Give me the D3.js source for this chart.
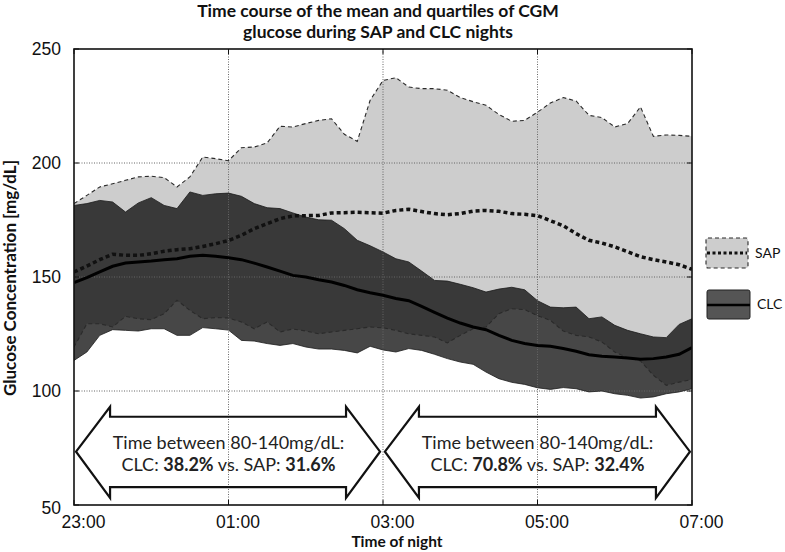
<!DOCTYPE html>
<html>
<head>
<meta charset="utf-8">
<script src="https://cdn.jsdelivr.net/npm/d3@7"></script>
<style>
body { margin: 0; background: #fff; }
svg { display: block; }
.tick-label { font-family: 'Liberation Sans Narrow', 'Liberation Sans', Arial, sans-serif; font-size: 17.5px; fill: #111; }
.title { font-family: Lato, 'Open Sans', sans-serif; font-weight: bold; font-size: 17.5px; fill: #111; }
.axis-title { font-family: Lato, 'Open Sans', sans-serif; font-weight: bold; font-size: 15.5px; fill: #111; }
.y-title { font-size: 17px; }
.note { font-family: Lato, 'Open Sans', sans-serif; font-size: 18px; fill: #222; }
.legend-text { font-family: Lato, 'Open Sans', sans-serif; font-size: 14px; fill: #111; }
</style>
</head>
<body>
<div id="chart"></div>
<script>
// minutes after 23:00, one sample every 10 min
const minutes = [0, 10, 20, 30, 40, 50, 60, 70, 80, 90, 100, 110, 120,
	130, 140, 150, 160, 170, 180, 190, 200, 210, 220, 230, 240,
	250, 260, 270, 280, 290, 300, 310, 320, 330, 340, 350, 360,
	370, 380, 390, 400, 410, 420, 430, 440, 450, 460, 470, 480]

const sapQ75 = [182.2, 185.8, 189.5, 190.9, 192.4, 193.9, 194.2, 193.6, 189.5, 193.9, 202.6, 201.9, 201.0,
	206.7, 207.0, 208.8, 216.1, 215.8, 217.3, 218.7, 219.4, 212.6, 209.5, 227.5, 236.2,
	237.4, 233.3, 232.6, 232.6, 231.9, 228.7, 226.9, 225.3, 221.3, 218.3, 218.7, 222.3,
	226.3, 228.7, 227.2, 220.9, 219.9, 215.8, 217.3, 224.6, 211.7, 212.3, 212.1, 211.7]

const sapQ25 = [119.3, 129.5, 129.5, 128.1, 132.7, 131.7, 131.3, 133.9, 139.8, 135.4, 131.7, 132.2, 132.0,
	130.3, 127.3, 130.3, 125.9, 127.2, 126.3, 125.1, 125.9, 126.6, 127.3, 128.1, 127.7,
	126.6, 125.1, 124.4, 123.7, 121.1, 124.4, 127.3, 128.1, 133.9, 136.1, 135.7, 133.0,
	131.0, 126.3, 124.4, 123.7, 121.5, 117.1, 114.6, 113.2, 106.9, 102.5, 103.9, 105.0]

const sapMean = [152.2, 154.8, 157.6, 160.0, 159.5, 159.5, 160.2, 161.3, 162.0, 162.4, 163.4, 164.6, 166.0,
	168.3, 171.2, 173.4, 175.6, 176.8, 176.9, 177.0, 178.1, 178.2, 178.4, 178.2, 178.0,
	179.2, 179.7, 178.7, 177.8, 177.3, 177.8, 178.9, 179.2, 178.8, 177.8, 177.5, 176.9,
	174.7, 172.5, 169.0, 166.1, 164.9, 163.2, 161.1, 158.9, 157.6, 156.6, 155.4, 153.4]

const clcQ75 = [181.4, 182.2, 183.6, 182.9, 178.5, 182.5, 184.8, 181.4, 180.0, 187.3, 185.8, 186.5, 186.8,
	185.4, 182.2, 180.4, 180.0, 178.1, 176.3, 175.1, 174.9, 171.2, 166.1, 163.7, 161.0,
	158.0, 156.6, 152.6, 148.5, 148.2, 146.8, 145.3, 143.4, 144.7, 145.5, 144.4, 139.6,
	136.8, 136.5, 136.8, 131.7, 132.5, 128.8, 126.6, 125.1, 123.7, 123.4, 129.2, 131.7]

const clcQ25 = [113.4, 117.1, 124.4, 126.9, 126.6, 126.3, 127.3, 127.3, 124.4, 124.4, 127.8, 127.3, 126.7,
	122.2, 121.9, 120.8, 120.0, 120.8, 119.3, 118.4, 118.4, 117.8, 116.7, 119.6, 118.0,
	117.1, 118.6, 117.8, 116.1, 114.2, 112.7, 111.7, 108.3, 105.4, 103.8, 102.9, 101.4,
	100.7, 101.5, 101.0, 99.6, 100.0, 98.8, 98.1, 96.9, 97.4, 98.8, 99.6, 101.0]

const clcMean = [147.5, 149.7, 152.2, 154.7, 156.1, 156.6, 157.0, 157.6, 158.0, 159.1, 159.5, 159.1, 158.4,
	157.6, 156.1, 154.4, 152.6, 150.7, 150.0, 148.8, 147.8, 146.3, 144.4, 143.1, 142.0,
	140.6, 139.6, 137.1, 134.5, 132.0, 129.8, 128.1, 126.9, 124.4, 122.2, 120.8, 120.0,
	119.6, 118.6, 117.4, 115.9, 115.2, 114.9, 114.5, 113.9, 114.2, 114.9, 116.1, 119.0]

const xTicks = [0, 120, 240, 360, 480]
const xTickLabels = ['23:00', '01:00', '03:00', '05:00', '07:00']
const yTicks = [50, 100, 150, 200, 250]

// the two halves of the night and the time-in-range numbers
const halves = [[0, 240], [240, 480]]
const clcInRange = ['38.2%', '70.8%']
const sapInRange = ['31.6%', '32.4%']

const legendNames = ['SAP', 'CLC']

let margin = { left: 74, right: 93, top: 49, bottom: 47 }
let width = 785, height = 552

let svg = d3.select('#chart')
.append('svg')
.attr('width', width)
.attr('height', height)

let x = d3.scaleLinear()
.domain([0, 480])
.range([margin.left, width - margin.right])

let y = d3.scaleLinear()
.domain([50, 250])
.range([height - margin.bottom, margin.top])

let rows = minutes.map((t, i) => ({
	t: t,
	sapHi: sapQ75[i], sapLo: sapQ25[i], sapMean: sapMean[i],
	clcHi: clcQ75[i], clcLo: clcQ25[i], clcMean: clcMean[i]
}))

svg.append('defs')
.append('clipPath')
.attr('id', 'plot-clip')
.append('rect')
.attr('x', x(0))
.attr('y', y(250))
.attr('width', x(480) - x(0))
.attr('height', y(50) - y(250))

let plot = svg.append('g').attr('clip-path', 'url(#plot-clip)')

let band = (lo, hi) => d3.area()
.x(d => x(d.t))
.y0(d => y(d[lo]))
.y1(d => y(d[hi]))

let line = key => d3.line()
.x(d => x(d.t))
.y(d => y(d[key]))

// SAP interquartile band
plot.append('path')
.datum(rows)
.attr('d', band('sapLo', 'sapHi'))
.attr('fill', '#cdcdcd')

// CLC band, see-through so the overlap goes darker
plot.append('path')
.datum(rows)
.attr('d', band('clcLo', 'clcHi'))
.attr('fill', '#000')
.attr('fill-opacity', 0.72)

// grid on top of the fills
plot.selectAll('.vgrid')
.data(xTicks.slice(1, -1))
.join('line')
.attr('class', 'vgrid')
.attr('x1', d => x(d)).attr('x2', d => x(d))
.attr('y1', y(50)).attr('y2', y(250))
.attr('stroke', '#666')
.attr('stroke-width', 1)
.attr('stroke-dasharray', '1,1.5')

plot.selectAll('.hgrid')
.data(yTicks.slice(1, -1))
.join('line')
.attr('class', 'hgrid')
.attr('x1', x(0)).attr('x2', x(480))
.attr('y1', d => y(d)).attr('y2', d => y(d))
.attr('stroke', '#666')
.attr('stroke-width', 1)
.attr('stroke-dasharray', '1,1.5')

// CLC band edges
;['clcHi', 'clcLo'].forEach(k => {
	plot.append('path')
	.datum(rows)
	.attr('d', line(k))
	.attr('fill', 'none')
	.attr('stroke', '#1a1a1a')
	.attr('stroke-width', 0.8)
})

// SAP quartiles, dashed
;['sapHi', 'sapLo'].forEach(k => {
	plot.append('path')
	.datum(rows)
	.attr('d', line(k))
	.attr('fill', 'none')
	.attr('stroke', '#2a2a2a')
	.attr('stroke-width', 1.1)
	.attr('stroke-dasharray', '4,3')
})

plot.append('path')
.datum(rows)
.attr('d', line('sapMean'))
.attr('fill', 'none')
.attr('stroke', '#111')
.attr('stroke-width', 3.5)
.attr('stroke-dasharray', '4,3')

plot.append('path')
.datum(rows)
.attr('d', line('clcMean'))
.attr('fill', 'none')
.attr('stroke', '#000')
.attr('stroke-width', 3)

// frame and inward ticks
svg.append('rect')
.attr('x', x(0))
.attr('y', y(250))
.attr('width', x(480) - x(0))
.attr('height', y(50) - y(250))
.attr('fill', 'none')
.attr('stroke', '#111')
.attr('stroke-width', 1.6)

xTicks.forEach(t => {
	svg.append('line').attr('x1', x(t)).attr('x2', x(t)).attr('y1', y(250)).attr('y2', y(250) + 5).attr('stroke', '#111')
	svg.append('line').attr('x1', x(t)).attr('x2', x(t)).attr('y1', y(50)).attr('y2', y(50) - 5).attr('stroke', '#111')
})
yTicks.forEach(v => {
	svg.append('line').attr('x1', x(0)).attr('x2', x(0) + 5).attr('y1', y(v)).attr('y2', y(v)).attr('stroke', '#111')
	svg.append('line').attr('x1', x(480)).attr('x2', x(480) - 5).attr('y1', y(v)).attr('y2', y(v)).attr('stroke', '#111')
})

let xAxis = svg.append('g')
.attr('transform', `translate(0, ${y(50)})`)
.call(d3.axisBottom(x).tickValues(xTicks).tickFormat((d, i) => xTickLabels[i]).tickSize(0).tickPadding(11))
xAxis.select('.domain').remove()
xAxis.selectAll('text').attr('class', 'tick-label').attr('dx', 9)

let yAxis = svg.append('g')
.attr('transform', `translate(${x(0)}, 0)`)
.call(d3.axisLeft(y).tickValues(yTicks).tickSize(0).tickPadding(13))
yAxis.select('.domain').remove()
yAxis.selectAll('text').attr('class', 'tick-label')
yAxis.selectAll('.tick').filter(d => d == 50).select('text').attr('dy', '0.5em')

// double-headed arrows with the time-in-range numbers
function arrowPath(t0, t1) {
	let x0 = x(t0), x1 = x(t1), head = 34
	let yc = y(73.4), hTop = y(93.1), hBot = y(53.1), sTop = y(88.7), sBot = y(57.8)
	return `M${x0},${yc} L${x0 + head},${hTop} L${x0 + head},${sTop} L${x1 - head},${sTop} L${x1 - head},${hTop} L${x1},${yc}` +
		` L${x1 - head},${hBot} L${x1 - head},${sBot} L${x0 + head},${sBot} L${x0 + head},${hBot} Z`
}

let arrows = svg.selectAll('.arrow')
.data(halves)
.join('g')
.attr('class', 'arrow')

arrows.append('path')
.attr('d', (d, i) => i == 0 ? arrowPath(d[0] + 1.6, d[1] - 2.3) : arrowPath(d[0] + 1.5, d[1] - 1.6))
.attr('fill', 'none')
.attr('stroke', '#111')
.attr('stroke-width', 2.2)
.attr('stroke-linejoin', 'miter')

arrows.append('text')
.attr('class', 'note')
.attr('x', d => x((d[0] + d[1]) / 2))
.attr('y', y(73.4) - 3)
.attr('text-anchor', 'middle')
.text('Time between 80-140mg/dL:')

let second = arrows.append('text')
.attr('class', 'note')
.attr('x', d => x((d[0] + d[1]) / 2))
.attr('y', y(73.4) + 19)
.attr('text-anchor', 'middle')

second.append('tspan').text('CLC: ')
second.append('tspan').attr('font-weight', 'bold').text((d, i) => clcInRange[i])
second.append('tspan').text(' vs. SAP: ')
second.append('tspan').attr('font-weight', 'bold').text((d, i) => sapInRange[i])

// legend
let legend = svg.append('g')

legend.append('rect')
.attr('x', 706).attr('y', 238).attr('width', 42).attr('height', 30).attr('rx', 2)
.attr('fill', '#cdcdcd')
.attr('stroke', '#2a2a2a')
.attr('stroke-width', 1.1)
.attr('stroke-dasharray', '4,3')

legend.append('line')
.attr('x1', 707).attr('x2', 747).attr('y1', 253).attr('y2', 253)
.attr('stroke', '#111')
.attr('stroke-width', 3)
.attr('stroke-dasharray', '3,2.5')

legend.append('rect')
.attr('x', 707).attr('y', 290).attr('width', 43).attr('height', 29).attr('rx', 2)
.attr('fill', '#555')
.attr('stroke', '#222')
.attr('stroke-width', 1)

legend.append('line')
.attr('x1', 707).attr('x2', 750).attr('y1', 305).attr('y2', 305)
.attr('stroke', '#000')
.attr('stroke-width', 2.5)

legend.selectAll('.legend-text')
.data(legendNames)
.join('text')
.attr('class', 'legend-text')
.attr('x', (d, i) => i == 0 ? 755 : 757)
.attr('y', (d, i) => i == 0 ? 253 : 304)
.attr('dy', '0.35em')
.text(d => d)

// titles
svg.append('text')
.attr('class', 'title')
.attr('x', 378)
.attr('y', 17)
.attr('text-anchor', 'middle')
.text('Time course of the mean and quartiles of CGM')

svg.append('text')
.attr('class', 'title')
.attr('x', 378)
.attr('y', 38)
.attr('text-anchor', 'middle')
.text('glucose during SAP and CLC nights')

svg.append('text')
.attr('class', 'axis-title')
.attr('x', 397)
.attr('y', 547)
.attr('text-anchor', 'middle')
.text('Time of night')

svg.append('text')
.attr('class', 'axis-title y-title')
.attr('transform', `translate(16, ${(y(50) + y(250)) / 2 + 1}) rotate(-90)`)
.attr('text-anchor', 'middle')
.text('Glucose Concentration [mg/dL]')
</script>
</body>
</html>
